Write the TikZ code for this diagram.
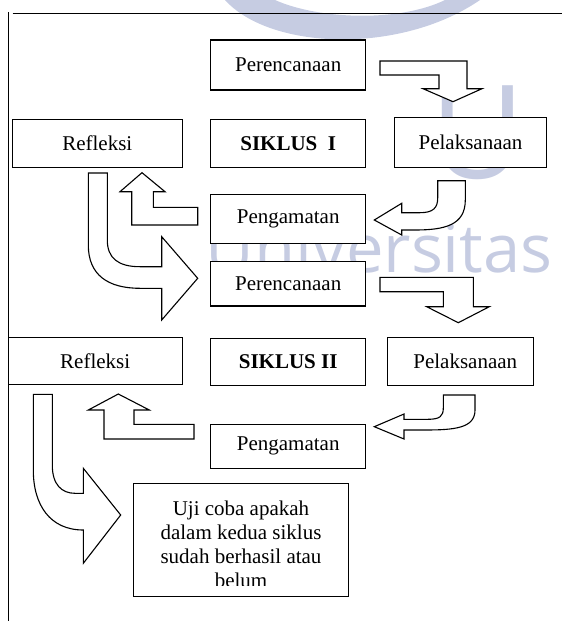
\documentclass[tikz,border=0pt]{standalone}
\usepackage{fontspec}
\setmainfont{Liberation Serif}
\newfontfamily\wmfont{Open Sans}
\definecolor{watermark}{RGB}{198,204,226}
\begin{document}
\begin{tikzpicture}[x=1pt,y=-1pt,
        box/.style={draw, fill=white, line width=1.1pt, inner sep=0pt, font=\fontsize{21}{24}\selectfont},
        blockarrow/.style={draw, fill=white, line width=1.1pt, line join=miter},
        wmtext/.style={watermark, inner sep=0pt}]
        \useasboundingbox (0,0) rectangle (562,621);
        % watermark of the page
        \begin{scope}
            \clip (0,0) rectangle (562,621);
            \fill[watermark] (225,0) .. controls (270,50) and (400,55) .. (480,0) -- (445,0) .. controls (400,22) and (320,20) .. (275,0) -- cycle;
            \node[wmtext, anchor=base west, font=\wmfont\fontsize{130}{130}\selectfont] (logo) at (430,178) {U};
            \node[wmtext, anchor=base east, font=\wmfont\fontsize{67}{67}\selectfont] (univ) at (553,272) {Universitas};
        \end{scope}
        % frame
        \draw[line width=0.9pt] (12.7,13) -- (562,13);
        \draw[line width=1.1pt] (8.3,12) -- (8.3,621);
        % arrows of siklus I
        \draw[blockarrow] (380,61) -- (467,61) -- (467,88.7) -- (482,88.7) -- (453,101.7) -- (423,88.7) -- (439,88.7) -- (439,75) -- (380,75) -- cycle;
        \draw[blockarrow] (437.7,180.7) -- (465.3,180.7) -- (465.3,200) .. controls (465.3,225) and (445,230) .. (415,230) -- (401.7,230) -- (401.7,235) -- (374.3,220) -- (401.7,203.3) -- (401.7,212.7) -- (420,212.7) .. controls (433,212.7) and (437.7,208) .. (437.7,198) -- cycle;
        \draw[blockarrow] (197.7,207.3) -- (153.3,207.3) -- (153.3,191.7) -- (165,191.7) -- (142,172.7) -- (120,191.7) -- (131.7,191.7) -- (131.7,225) -- (197.7,225) -- cycle;
        \draw[blockarrow] (88.3,173) -- (107.3,173) -- (107.3,240) .. controls (107.3,258) and (118,266.7) .. (140,266.7) -- (161.7,266.7) -- (161.7,236.7) -- (197.7,278.3) -- (161.7,320) -- (161.7,288.3) -- (140,288.3) .. controls (108,288.3) and (88.3,275) .. (88.3,245) -- cycle;
        % arrows of siklus II
        \draw[blockarrow] (380,277.3) -- (473.3,277.3) -- (473.3,306.7) -- (489.3,306.7) -- (458.3,322.7) -- (426.7,306.7) -- (443.3,306.7) -- (443.3,291.7) -- (380,291.7) -- cycle;
        \draw[blockarrow] (443.3,395) -- (475,395) -- (475,410) .. controls (475,428) and (455,430) .. (425,430) -- (404,430) -- (404,439) -- (374.3,426.7) -- (404,414) -- (404,419.3) -- (428,419.3) .. controls (440,419.3) and (443.3,416) .. (443.3,408) -- cycle;
        \draw[blockarrow] (194,424.3) -- (134,424.3) -- (134,410) -- (149.3,410) -- (118.3,394) -- (88.3,410) -- (104,410) -- (104,439) -- (194,439) -- cycle;
        \draw[blockarrow] (33.3,394.3) -- (52.3,394.3) -- (52.3,465) .. controls (52.3,485) and (62,493.3) .. (75,493.3) -- (83.3,493.3) -- (83.3,468.3) -- (120.7,515) -- (83.3,563.3) -- (83.3,530) .. controls (50,530) and (33.3,505) .. (33.3,470) -- cycle;
        % siklus I
        \node[box, minimum width=155, minimum height=50] (plan1) at (288.2,65) {Perencanaan};
        \node[box, minimum width=170, minimum height=48.4] (reflect1) at (97.3,143.5) {Refleksi};
        \node[box, minimum width=155, minimum height=48.4, font=\fontsize{21}{24}\selectfont\bfseries] (cycle1) at (288.2,143.5) {SIKLUS\ \ I};
        \node[box, minimum width=152.4, minimum height=50.4] (act1) at (470.5,142.5) {Pelaksanaan};
        \node[box, minimum width=155, minimum height=49.3] (observe1) at (288.2,218.7) {Pengamatan};
        % siklus II
        \node[box, minimum width=155, minimum height=44.3] (plan2) at (288.2,283.8) {Perencanaan};
        \node[box, minimum width=174.3, minimum height=47] (reflect2) at (95.2,360.8) {Refleksi};
        \node[box, minimum width=155, minimum height=46.7, font=\fontsize{21}{24}\selectfont\bfseries] (cycle2) at (288.2,361.7) {SIKLUS II};
        \node[box, minimum width=146, minimum height=47.7] (act2) at (460.3,361.2) {\hspace{10pt}Pelaksanaan};
        \node[box, minimum width=155, minimum height=44.3] (observe2) at (288.2,446.2) {Pengamatan};
        % hasil
        \node[box, minimum width=215, minimum height=113.4] (test) at (240.8,540) {};
        \begin{scope}
            \clip (134,484) rectangle (348,585);
            \node[anchor=north, inner sep=0pt, align=center, font=\fontsize{21}{24}\selectfont] (testtext) at (241,501) {Uji coba apakah\\dalam kedua siklus\\sudah berhasil atau\\belum};
        \end{scope}
\end{tikzpicture}
\end{document}
